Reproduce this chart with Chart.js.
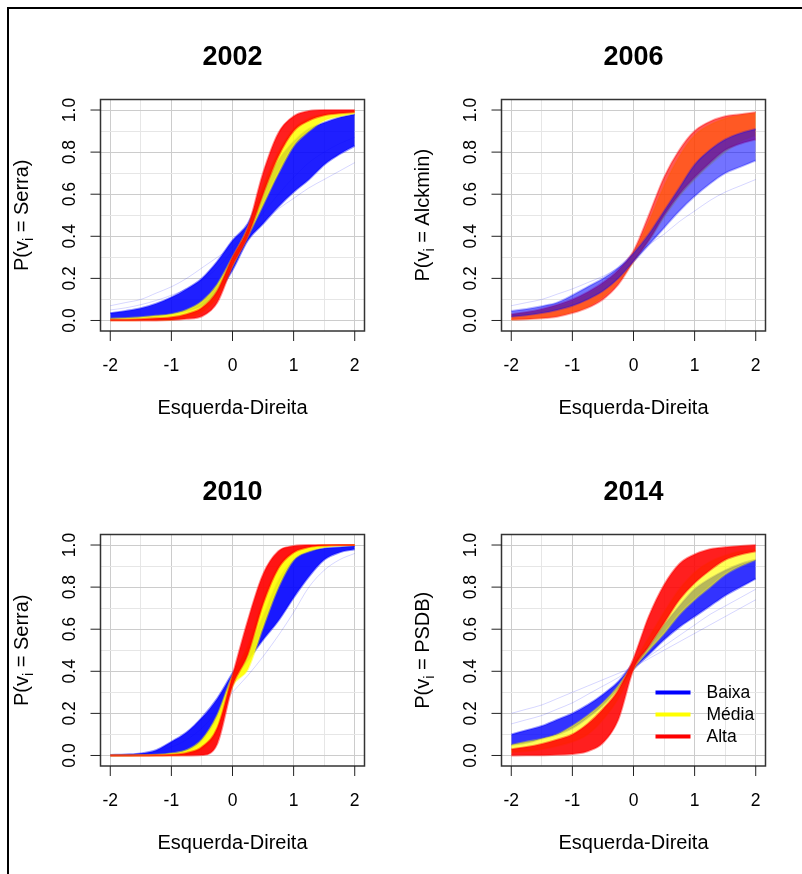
<!DOCTYPE html>
<html>
<head>
<meta charset="utf-8">
<script src="https://cdn.jsdelivr.net/npm/chart.js@4.4.1/dist/chart.umd.min.js"></script>
<style>
  html, body { margin: 0; padding: 0; background: #fff; }
  body { position: relative; width: 802px; height: 874px; overflow: hidden; }
  #frame { position: absolute; left: 7px; top: 7px; width: 820px; height: 900px;
           border-left: 2px solid #000; border-top: 2px solid #000; }
  canvas { position: absolute; }
</style>
</head>
<body>
<div id="frame"></div>
<canvas id="c2002" width="401" height="437" style="left:0;top:0"></canvas>
<canvas id="c2006" width="401" height="437" style="left:401px;top:0"></canvas>
<canvas id="c2010" width="401" height="437" style="left:0;top:435px"></canvas>
<canvas id="c2014" width="401" height="437" style="left:401px;top:435px"></canvas>
<script>
const xs = [-2, -1.75, -1.5, -1.25, -1, -0.75, -0.5, -0.25, 0, 0.25, 0.5, 0.75, 1, 1.25, 1.5, 1.75, 2];

// tick labels / grid
const xTicks = [-2, -1, 0, 1, 2];
const yTicks = [0, 0.2, 0.4, 0.6, 0.8, 1.0];
const gridX = [-2, -1.5, -1, -0.5, 0, 0.5, 1, 1.5, 2];
const gridY = [0, 0.1, 0.2, 0.3, 0.4, 0.5, 0.6, 0.7, 0.8, 0.9, 1.0];
const legendLabels = ["Baixa", "Média", "Alta"];

// 2002 - lower / upper edge of each bundle of curves
const blue02Lo = [0.006, 0.009, 0.013, 0.02, 0.03, 0.045, 0.07, 0.13, 0.24, 0.38, 0.46, 0.54, 0.61, 0.67, 0.74, 0.79, 0.83];
const blue02Hi = [0.035, 0.045, 0.058, 0.08, 0.11, 0.15, 0.2, 0.28, 0.38, 0.46, 0.62, 0.76, 0.85, 0.91, 0.94, 0.965, 0.98];
const faint02a = [0.07, 0.085, 0.1, 0.13, 0.16, 0.2, 0.25, 0.3, 0.35, 0.41, 0.47, 0.53, 0.58, 0.63, 0.67, 0.71, 0.75];
const faint02b = [0.05, 0.06, 0.075, 0.095, 0.12, 0.15, 0.19, 0.25, 0.33, 0.42, 0.51, 0.6, 0.68, 0.75, 0.8, 0.84, 0.87];
const yellow02Lo = [0.001, 0.001, 0.002, 0.003, 0.005, 0.015, 0.04, 0.11, 0.26, 0.4, 0.55, 0.7, 0.83, 0.9, 0.95, 0.97, 0.985];
const yellow02Hi = [0.008, 0.011, 0.015, 0.022, 0.03, 0.05, 0.09, 0.17, 0.3, 0.44, 0.64, 0.8, 0.91, 0.96, 0.98, 0.99, 0.995];
const red02Lo = [0, 0, 0, 0, 0.002, 0.008, 0.02, 0.085, 0.26, 0.4, 0.6, 0.78, 0.9, 0.95, 0.975, 0.985, 0.99];
const red02Hi = [0.003, 0.004, 0.006, 0.01, 0.015, 0.03, 0.06, 0.14, 0.3, 0.44, 0.7, 0.89, 0.97, 0.995, 1, 1, 1];

// 2006
const blue06Lo = [0.018, 0.025, 0.035, 0.05, 0.07, 0.1, 0.14, 0.2, 0.28, 0.36, 0.44, 0.52, 0.59, 0.65, 0.7, 0.73, 0.76];
const blue06Hi = [0.045, 0.055, 0.068, 0.085, 0.12, 0.16, 0.2, 0.25, 0.32, 0.41, 0.52, 0.63, 0.74, 0.81, 0.86, 0.89, 0.91];
const faint06a = [0.07, 0.085, 0.1, 0.125, 0.15, 0.18, 0.21, 0.25, 0.3, 0.36, 0.41, 0.47, 0.52, 0.57, 0.61, 0.64, 0.67];
const yellow06Lo = [0.005, 0.008, 0.013, 0.022, 0.04, 0.065, 0.11, 0.18, 0.28, 0.38, 0.49, 0.59, 0.67, 0.74, 0.8, 0.85, 0.88];
const yellow06Hi = [0.025, 0.035, 0.048, 0.067, 0.09, 0.125, 0.17, 0.23, 0.32, 0.47, 0.64, 0.78, 0.88, 0.93, 0.96, 0.975, 0.985];
const red06Lo = [0.003, 0.006, 0.01, 0.018, 0.035, 0.06, 0.1, 0.17, 0.28, 0.38, 0.5, 0.6, 0.68, 0.75, 0.81, 0.84, 0.86];
const red06Hi = [0.03, 0.04, 0.055, 0.075, 0.1, 0.135, 0.18, 0.24, 0.33, 0.5, 0.68, 0.81, 0.9, 0.945, 0.97, 0.98, 0.99];

// 2010
const blue10Lo = [0, 0.001, 0.002, 0.004, 0.008, 0.022, 0.07, 0.18, 0.35, 0.45, 0.55, 0.64, 0.75, 0.85, 0.93, 0.965, 0.98];
const blue10Hi = [0.002, 0.005, 0.01, 0.025, 0.065, 0.11, 0.18, 0.27, 0.39, 0.5, 0.66, 0.83, 0.93, 0.97, 0.985, 0.99, 0.995];
const faint10a = [0.001, 0.003, 0.007, 0.018, 0.04, 0.075, 0.13, 0.21, 0.3, 0.38, 0.47, 0.57, 0.68, 0.8, 0.88, 0.93, 0.96];
const yellow10Lo = [0, 0, 0, 0, 0.001, 0.005, 0.03, 0.11, 0.33, 0.41, 0.61, 0.8, 0.93, 0.97, 0.99, 0.997, 1];
const yellow10Hi = [0, 0, 0.001, 0.003, 0.01, 0.025, 0.075, 0.19, 0.38, 0.52, 0.74, 0.9, 0.97, 0.99, 1, 1, 1];
const red10Lo = [0, 0, 0, 0, 0, 0, 0.002, 0.055, 0.33, 0.48, 0.72, 0.89, 0.965, 0.99, 0.998, 1, 1];
const red10Hi = [0, 0, 0, 0.001, 0.004, 0.012, 0.04, 0.13, 0.38, 0.64, 0.86, 0.97, 0.995, 1, 1, 1, 1];

// 2014
const blue14Lo = [0.05, 0.06, 0.08, 0.1, 0.13, 0.18, 0.24, 0.32, 0.41, 0.48, 0.55, 0.61, 0.66, 0.71, 0.76, 0.8, 0.84];
const blue14Hi = [0.1, 0.12, 0.14, 0.17, 0.2, 0.24, 0.29, 0.35, 0.44, 0.52, 0.62, 0.71, 0.79, 0.84, 0.88, 0.91, 0.93];
const faint14a = [0.2, 0.22, 0.24, 0.27, 0.3, 0.33, 0.36, 0.39, 0.42, 0.46, 0.5, 0.54, 0.58, 0.62, 0.66, 0.7, 0.74];
const faint14b = [0.15, 0.17, 0.19, 0.22, 0.25, 0.29, 0.33, 0.37, 0.42, 0.47, 0.52, 0.57, 0.62, 0.67, 0.71, 0.75, 0.79];
const yellow14Lo = [0.015, 0.02, 0.03, 0.045, 0.065, 0.1, 0.17, 0.27, 0.41, 0.5, 0.58, 0.67, 0.74, 0.8, 0.86, 0.9, 0.93];
const yellow14Hi = [0.05, 0.065, 0.08, 0.1, 0.14, 0.19, 0.25, 0.33, 0.44, 0.56, 0.68, 0.79, 0.87, 0.92, 0.95, 0.97, 0.98];
const red14Lo = [0, 0.001, 0.001, 0.003, 0.007, 0.02, 0.06, 0.17, 0.41, 0.52, 0.63, 0.74, 0.82, 0.88, 0.93, 0.955, 0.97];
const red14Hi = [0.03, 0.04, 0.055, 0.075, 0.1, 0.15, 0.22, 0.31, 0.46, 0.66, 0.81, 0.91, 0.955, 0.98, 0.99, 0.995, 1];

const FONT = '"Liberation Sans", Arial, Helvetica, sans-serif';
const BLUE = [0, 0, 255], YELLOW = [255, 255, 0], RED = [255, 0, 0];

function rgba(c, a) {
  return `rgba(${c[0]}, ${c[1]}, ${c[2]}, ${a})`;
}

function pts(arr) {
  return xs.map((x, i) => ({ x: x, y: arr[i] }));
}

// one bundle of curves: lower edge, then upper edge filled back to it
function band(lo, hi, color, alpha, order) {
  const edge = rgba(color, alpha * 0.5);
  return [
    { data: pts(lo), borderColor: edge, borderWidth: 2, fill: false, order: order },
    { data: pts(hi), borderColor: edge, borderWidth: 2, fill: "-1",
      backgroundColor: rgba(color, alpha), order: order },
  ];
}

function faint(arr) {
  return { data: pts(arr), borderColor: "rgba(0, 0, 255, 0.16)", borderWidth: 1, fill: false, order: 9 };
}

// R style box, ticks, titles and legend
const rAxes = {
  id: "rAxes",
  afterDraw(chart, args, opts) {
    const { ctx, chartArea: a, scales: { x, y } } = chart;
    ctx.save();

    ctx.strokeStyle = "#333";
    ctx.lineWidth = 1.5;
    ctx.strokeRect(a.left, a.top, a.right - a.left, a.bottom - a.top);

    ctx.lineWidth = 1;
    ctx.strokeStyle = "#222";
    ctx.beginPath();
    xTicks.forEach((v) => {
      const px = x.getPixelForValue(v);
      ctx.moveTo(px, a.bottom);
      ctx.lineTo(px, a.bottom + 10);
    });
    yTicks.forEach((v) => {
      const py = y.getPixelForValue(v);
      ctx.moveTo(a.left, py);
      ctx.lineTo(a.left - 10, py);
    });
    ctx.stroke();

    ctx.fillStyle = "#000";
    ctx.font = "17.5px " + FONT;
    ctx.textAlign = "center";
    ctx.textBaseline = "alphabetic";
    xTicks.forEach((v) => {
      ctx.fillText(String(v), x.getPixelForValue(v), a.bottom + 40);
    });
    yTicks.forEach((v) => {
      ctx.save();
      ctx.translate(a.left - 26, y.getPixelForValue(v));
      ctx.rotate(-Math.PI / 2);
      ctx.fillText(v.toFixed(1), 0, 0);
      ctx.restore();
    });

    const cx = (a.left + a.right) / 2;
    const cy = (a.top + a.bottom) / 2;

    ctx.font = "bold 27px " + FONT;
    ctx.fillText(opts.title, cx, 65);

    ctx.font = "20px " + FONT;
    ctx.fillText("Esquerda-Direita", cx, a.bottom + 83);

    // y label with subscript i
    const big = "20px " + FONT, small = "14px " + FONT;
    const parts = [["P(v", big, 0], ["i", small, 5], [" = " + opts.ylab + ")", big, 0]];
    let total = 0;
    parts.forEach((p) => { ctx.font = p[1]; total += ctx.measureText(p[0]).width; });
    ctx.save();
    ctx.translate(27.5, cy);
    ctx.rotate(-Math.PI / 2);
    ctx.textAlign = "left";
    let pos = -total / 2;
    parts.forEach((p) => {
      ctx.font = p[1];
      ctx.fillText(p[0], pos, p[2]);
      pos += ctx.measureText(p[0]).width;
    });
    ctx.restore();

    if (opts.legend) {
      const cols = [BLUE, YELLOW, RED];
      ctx.font = "17.5px " + FONT;
      ctx.textAlign = "left";
      ctx.textBaseline = "middle";
      ctx.lineWidth = 4;
      legendLabels.forEach((lab, i) => {
        const ly = a.bottom - 73.5 + i * 22;
        ctx.strokeStyle = rgba(cols[i], 1);
        ctx.beginPath();
        ctx.moveTo(a.right - 110, ly);
        ctx.lineTo(a.right - 75, ly);
        ctx.stroke();
        ctx.fillText(lab, a.right - 59, ly + 1);
      });
    }
    ctx.restore();
  },
};

function makeChart(id, title, ylab, datasets, legend) {
  return new Chart(document.getElementById(id), {
    type: "line",
    data: { datasets: datasets },
    options: {
      responsive: false,
      animation: false,
      layout: { padding: { left: 100.5, right: 36.5, top: 99.5, bottom: 106 } },
      elements: {
        point: { radius: 0 },
        line: { cubicInterpolationMode: "monotone" },
      },
      plugins: {
        legend: { display: false },
        tooltip: { enabled: false },
        rAxes: { title: title, ylab: ylab, legend: legend },
      },
      scales: {
        x: {
          type: "linear",
          min: -2.16,
          max: 2.16,
          afterBuildTicks: (s) => { s.ticks = gridX.map((v) => ({ value: v })); },
          ticks: { display: false },
          border: { display: false },
          grid: {
            drawTicks: false,
            color: (c) => (Number.isInteger(c.tick.value) ? "#cccccc" : "#e6e6e6"),
          },
        },
        y: {
          min: -0.05,
          max: 1.05,
          afterBuildTicks: (s) => { s.ticks = gridY.map((v) => ({ value: v })); },
          ticks: { display: false },
          border: { display: false },
          grid: {
            drawTicks: false,
            color: (c) => (Math.round(c.tick.value * 10) % 2 === 0 ? "#cccccc" : "#e6e6e6"),
          },
        },
      },
    },
    plugins: [rAxes],
  });
}

makeChart("c2002", "2002", "Serra", [
  ...band(blue02Lo, blue02Hi, BLUE, 0.88, 3),
  ...band(yellow02Lo, yellow02Hi, YELLOW, 0.85, 2),
  ...band(red02Lo, red02Hi, RED, 0.88, 1),
  faint(faint02a), faint(faint02b),
], false);

// 2006: blue bundle sits over the orange one, giving the purple tone
makeChart("c2006", "2006", "Alckmin", [
  ...band(yellow06Lo, yellow06Hi, YELLOW, 0.6, 3),
  ...band(red06Lo, red06Hi, RED, 0.65, 2),
  ...band(blue06Lo, blue06Hi, BLUE, 0.55, 1),
  faint(faint06a),
], false);

makeChart("c2010", "2010", "Serra", [
  ...band(blue10Lo, blue10Hi, BLUE, 0.9, 3),
  ...band(yellow10Lo, yellow10Hi, YELLOW, 0.92, 2),
  ...band(red10Lo, red10Hi, RED, 0.92, 1),
  faint(faint10a),
], false);

makeChart("c2014", "2014", "PSDB", [
  ...band(blue14Lo, blue14Hi, BLUE, 0.8, 3),
  ...band(yellow14Lo, yellow14Hi, YELLOW, 0.65, 2),
  ...band(red14Lo, red14Hi, RED, 0.88, 1),
  faint(faint14a), faint(faint14b),
], true);
</script>
</body>
</html>
